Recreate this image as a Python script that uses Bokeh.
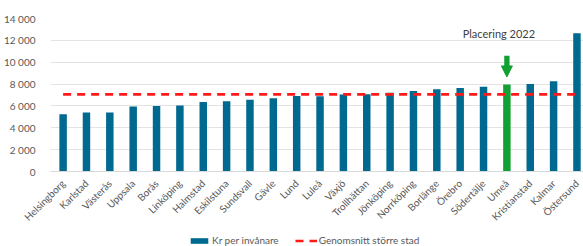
from bokeh.plotting import figure
from bokeh.layouts import column
from bokeh.models import (ColumnDataSource, Range1d, FixedTicker, Legend, LegendItem,
                          Arrow, NormalHead, Label)
from bokeh.embed import file_html
from bokeh.resources import INLINE

cities = ["Helsingborg", "Karlstad", "Västerås", "Uppsala", "Borås", "Linköping",
          "Halmstad", "Eskilstuna", "Sundsvall", "Gävle", "Lund", "Luleå", "Växjö",
          "Trollhättan", "Jönköping", "Norrköping", "Borlänge", "Örebro", "Södertälje",
          "Umeå", "Kristianstad", "Kalmar", "Östersund"]
kr_per_inv = [5250, 5400, 5400, 5950, 6000, 6030, 6360, 6420, 6560, 6710, 6900, 6890,
              7050, 7070, 7200, 7370, 7520, 7650, 7760, 7950, 8000, 8260, 12650]
avg_value = 7050
highlight = "Umeå"
y_ticks = [0, 2000, 4000, 6000, 8000, 10000, 12000, 14000]
y_tick_labels = ["0", "2 000", "4 000", "6 000", "8 000", "10 000", "12 000", "14 000"]
series_names = ["Kr per invånare", "Genomsnitt större stad"]

BLUE = "#00698f"
GREEN = "#12a032"
RED = "#ff1a1a"
GREY = "#595959"
FONT = "Lato"
DASH = "8 6"

xs = list(range(len(cities)))
hi = cities.index(highlight)
colors = [GREEN if c == highlight else BLUE for c in cities]
src = ColumnDataSource(dict(x=xs, y=kr_per_inv, color=colors, city=cities))

p = figure(width=583, height=230, output_backend="svg", toolbar_location=None,
           x_range=Range1d(-0.54, 22.28), y_range=Range1d(0, 14000),
           min_border_left=49, min_border_right=0, min_border_top=18, min_border_bottom=56)
p.outline_line_color = None

p.vbar(x="x", top="y", width=0.32, color="color", line_color=None, source=src)
p.line(x=[xs[0], xs[-1]], y=[avg_value, avg_value], line_color=RED,
       line_width=2.7, line_dash=DASH)

# axes
p.yaxis.ticker = FixedTicker(ticks=y_ticks)
p.yaxis.major_label_overrides = {t: l for t, l in zip(y_ticks, y_tick_labels)}
p.yaxis.axis_line_color = None
p.yaxis.major_tick_line_color = None
p.yaxis.minor_tick_line_color = None
p.yaxis.major_label_standoff = 9
p.yaxis.major_label_text_font = FONT
p.yaxis.major_label_text_font_size = "10px"
p.yaxis.major_label_text_color = GREY

p.xaxis.ticker = FixedTicker(ticks=xs)
p.xaxis.major_label_overrides = {i: c for i, c in zip(xs, cities)}
p.xaxis.major_label_orientation = 0.785398
p.xaxis.axis_line_color = "#d9d9d9"
p.xaxis.major_tick_line_color = None
p.xaxis.minor_tick_line_color = None
p.xaxis.major_label_standoff = 4
p.xaxis.major_label_text_font = FONT
p.xaxis.major_label_text_font_size = "10px"
p.xaxis.major_label_text_color = GREY

p.xgrid.grid_line_color = None
p.ygrid.grid_line_color = "#e3e3e3"
p.ygrid.ticker = FixedTicker(ticks=y_ticks)

# annotation arrow and text
arrow_top = kr_per_inv[hi] + 2650
arrow_tip = kr_per_inv[hi] + 700
p.add_layout(Arrow(x_start=hi, y_start=arrow_top, x_end=hi, y_end=arrow_tip,
                   line_color=GREEN, line_width=5.3,
                   end=NormalHead(size=11, fill_color=GREEN, line_color=GREEN, line_width=1)))
p.add_layout(Label(x=hi, y=kr_per_inv[hi] + 4700, x_offset=-8, text="Placering 2022",
                   text_font=FONT, text_font_size="11px", text_color="#404040",
                   text_align="center", text_baseline="middle"))

# legend strip (separate figure below the chart); its renderers sit outside the view
lg = figure(width=583, height=16, output_backend="svg", toolbar_location=None,
            x_range=Range1d(0, 1), y_range=Range1d(0, 1),
            x_axis_location=None, y_axis_location=None, min_border=0)
lg.outline_line_color = None
lg.xgrid.grid_line_color = None
lg.ygrid.grid_line_color = None
r_bar = lg.vbar(x=[-5], top=[-5], width=0.3, color=BLUE, line_color=None)
r_line = lg.line(x=[-5, -4], y=[-5, -5], line_color=RED, line_width=2.7, line_dash=DASH)
legend = Legend(items=[LegendItem(label=series_names[0], renderers=[r_bar]),
                       LegendItem(label=series_names[1], renderers=[r_line])],
                location=(138, 0), orientation="horizontal",
                glyph_width=22, glyph_height=7, label_height=12, label_standoff=2,
                spacing=16, padding=0, margin=0,
                label_text_font=FONT, label_text_font_size="10px",
                label_text_color=GREY, background_fill_alpha=0, border_line_color=None)
lg.add_layout(legend, "center")

layout = column(p, lg, spacing=0)
open("out.html", "w").write(file_html(layout, INLINE))
